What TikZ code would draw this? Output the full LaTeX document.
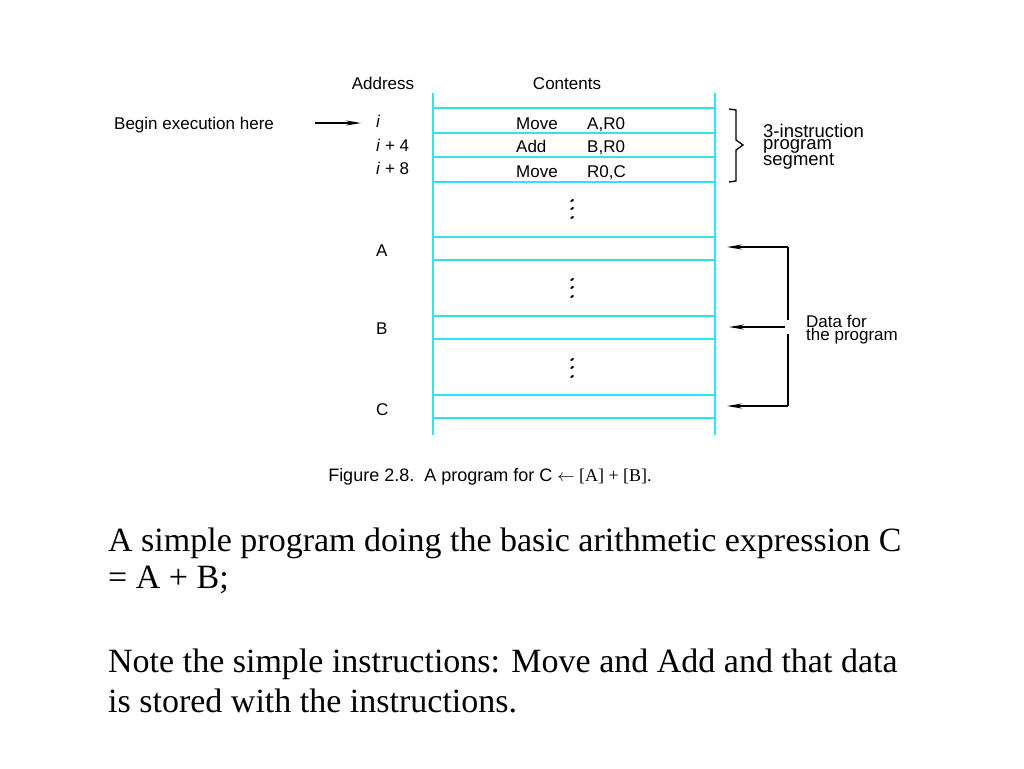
\documentclass[tikz,border=0pt]{standalone}
\usepackage{fontspec}
\setmainfont{Liberation Serif}
\setsansfont{Liberation Sans}
\usetikzlibrary{arrows.meta}
\definecolor{mcyan}{RGB}{45,228,240}
\tikzset{
  lbl/.style={font=\sffamily\fontsize{17}{17}\selectfont, inner sep=0pt, anchor=base west},
  lblc/.style={font=\sffamily\fontsize{17}{17}\selectfont, inner sep=0pt, anchor=base},
  tight/.style={font=\sffamily\fontsize{17}{11.5}\selectfont, inner sep=0pt, anchor=north west, align=left},
  body/.style={font=\rmfamily\fontsize{34}{37}\selectfont, inner sep=0pt, anchor=base west},
  mem/.style={mcyan, line width=1.8pt},
  ptr/.style={black, line width=1.2pt, -{Stealth[length=15pt,width=5pt]}},
  vdot/.style={black, line width=2pt, line cap=round}
}
\begin{document}
\begin{tikzpicture}[x=1pt,y=-1pt]
\useasboundingbox[fill=white] (0,0) rectangle (1024,768);
% memory columns
\draw[mem] (433,93) -- (433,435);
\draw[mem] (715,93) -- (715,435);
\foreach \y in {108,133,157,182,237,260,316,339,395,418}
  \draw[mem] (433,\y) -- (715,\y);
% vertical dots
\foreach \y in {200,208,217, 279,287,296, 359,367,376}
  \draw[vdot] (571.2,\y+1) -- (573,\y);
% headers
\node[lblc] (addr) at (383,89) {Address};
\node[lblc] (cont) at (567,89) {Contents};
% addresses
\node[lbl] (ai) at (376,127) {\textit{i}};
\node[lbl] (ai4) at (376,151) {\textit{i} + 4};
\node[lbl] (ai8) at (376,174) {\textit{i} + 8};
\node[lbl] (aA) at (376,256) {A};
\node[lbl] (aB) at (376,334) {B};
\node[lbl] (aC) at (376,415) {C};
% contents
\node[lbl] (m1) at (516,129) {Move};
\node[lbl] (o1) at (587,129) {A,R0};
\node[lbl] (m2) at (516,152) {Add};
\node[lbl] (o2) at (587,152) {B,R0};
\node[lbl] (m3) at (516,177) {Move};
\node[lbl] (o3) at (587,177) {R0,C};
% begin execution
\node[lbl] (begin) at (114,129) {Begin execution here};
\coordinate (bs) at (315,123);
\coordinate (be) at (361,123);
\draw[ptr] (bs) -- (be);
% brace
\draw[black, line width=1.3pt] (729,109) -- (736,110) -- (736,140) -- (743,145) -- (736,150) -- (736,181) -- (729,182);
\node[tight, font=\sffamily\fontsize{18.5}{11.5}\selectfont] (seg) at (763,124) {3-instruction\\program\\segment};
% data arrows
\coordinate (dtop) at (788,247);
\coordinate (dbot) at (788,406);
\coordinate (dmid) at (785,327);
\coordinate (tA) at (727,247);
\coordinate (tB) at (729,327);
\coordinate (tC) at (727,406);
\draw[black, line width=1.2pt] (dtop) -- (788,320);
\draw[black, line width=1.2pt] (788,334) -- (dbot);
\draw[ptr] (dtop) -- (tA);
\draw[ptr] (dmid) -- (tB);
\draw[ptr] (dbot) -- (tC);
\node[tight] (data) at (806,315) {Data for\\the program};
% caption
\node[lblc, font=\sffamily\fontsize{18}{18}\selectfont] (cap) at (490,481) {Figure 2.8.\ \ A program for C \rmfamily$\leftarrow$ [A] + [B].};
% body text
\node[body] (t1) at (108,551) {A simple program doing the basic arithmetic expression C};
\node[body] (t2) at (108,588) {= A + B;};
\node[body] (t3) at (108,672) {Note the simple instructions: Move and Add and that data};
\node[body] (t4) at (108,712) {is stored with the instructions.};
\end{tikzpicture}
\end{document}
